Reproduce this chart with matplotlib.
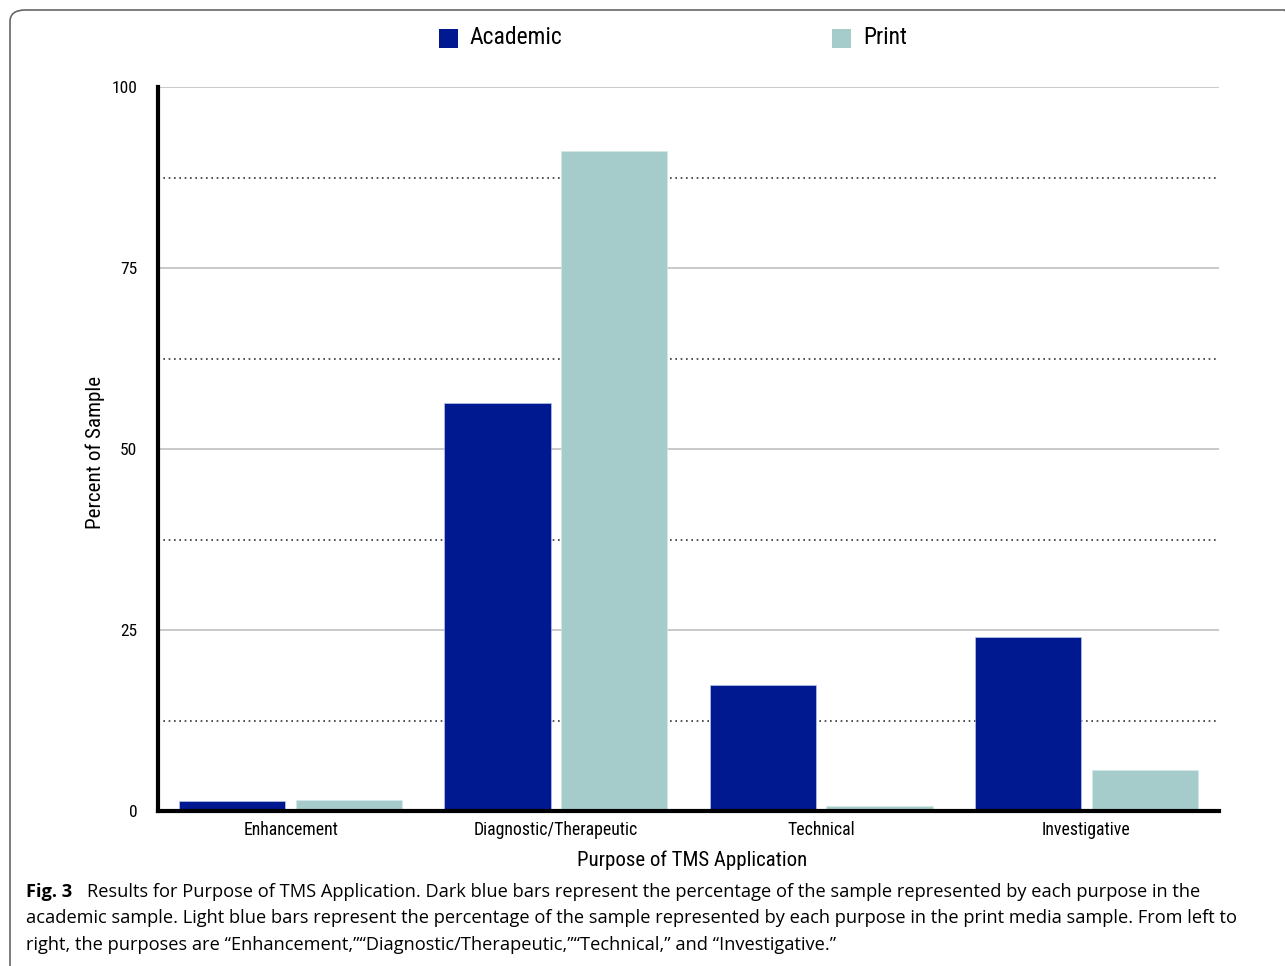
import matplotlib
matplotlib.use("Agg")
import matplotlib.pyplot as plt
from matplotlib import font_manager
from matplotlib.patches import FancyBboxPatch, Rectangle
import numpy as np

categories = ["Enhancement", "Diagnostic/Therapeutic", "Technical", "Investigative"]
academic = [1.4, 56.4, 17.4, 24.0]
print_media = [1.5, 91.2, 0.7, 5.7]
series_names = ["Academic", "Print"]
yticks = [0, 25, 50, 75, 100]
minor_ticks = [12.5, 37.5, 62.5, 87.5]

names = {f.name for f in font_manager.fontManager.ttflist}
cond = "Roboto Condensed" if "Roboto Condensed" in names else "Roboto"
cap_font = "Open Sans" if "Open Sans" in names else "Noto Sans"

c_acad = "#001890"
c_print = "#A5CBCB"

W, H = 1285, 966
fig = plt.figure(figsize=(W / 100, H / 100), dpi=100)

def fx(px):
    return px / W

def fy(py):
    return 1 - py / H

# border
border = FancyBboxPatch((fx(10), fy(985)), fx(1300) - fx(10), fy(10) - fy(985),
                        boxstyle="round,pad=0,rounding_size=0.012",
                        transform=fig.transFigure, fill=False,
                        edgecolor="#666666", linewidth=1.2, clip_on=False)
fig.patches.append(border)

ax = fig.add_axes([fx(158), fy(811), fx(1219) - fx(158), fy(87) - fy(811)])
x = np.arange(len(categories))
w = 0.4
off = 0.22
ax.bar(x - off, academic, w, color=c_acad, zorder=3, edgecolor="#c8d0f0", linewidth=0.4)
ax.bar(x + off, print_media, w, color=c_print, zorder=3, edgecolor="#d8eaea", linewidth=0.4)

ax.set_xlim(-0.5, 3.5)
ax.set_ylim(0, 100)
ax.set_yticks(yticks)
ax.set_yticklabels([str(t) for t in yticks], fontfamily=cond, fontsize=12.5)
ax.set_yticks(minor_ticks, minor=True)
ax.tick_params(axis="y", which="both", length=0, pad=15)
ax.grid(axis="y", which="major", color="#bbbbbb", linewidth=1.1, zorder=0)
ax.grid(axis="y", which="minor", color="#333333", linewidth=1.2, linestyle=(0, (1, 2.2)), zorder=0)
ax.set_xticks(x)
ax.set_xticklabels(categories, fontfamily=cond, fontsize=12.8)
ax.tick_params(axis="x", length=0, pad=7)
for s in ["top", "right"]:
    ax.spines[s].set_visible(False)
ax.spines["left"].set_linewidth(3)
ax.spines["bottom"].set_linewidth(3)
ax.spines["left"].set_zorder(4)
ax.spines["bottom"].set_zorder(4)

fig.text(fx(95), fy(452), "Percent of Sample", rotation=90, ha="center", va="center",
         fontfamily=cond, fontsize=15.2)
fig.text(fx(692), fy(860), "Purpose of TMS Application", ha="center", va="center",
         fontfamily=cond, fontsize=15)

# legend
for (px, name, col) in [(439, series_names[0], c_acad), (832, series_names[1], c_print)]:
    fig.patches.append(Rectangle((fx(px), fy(48)), fx(19), fy(29) - fy(48),
                                 transform=fig.transFigure, facecolor=col, edgecolor="none"))
    fig.text(fx(px + 31), fy(38), name, ha="left", va="center", fontfamily=cond, fontsize=17)

# caption
lines = [
    "Results for Purpose of TMS Application. Dark blue bars represent the percentage of the sample represented by each purpose in the",
    "academic sample. Light blue bars represent the percentage of the sample represented by each purpose in the print media sample. From left to",
    "right, the purposes are \u201cEnhancement,\u201d\u201cDiagnostic/Therapeutic,\u201d\u201cTechnical,\u201d and \u201cInvestigative.\u201d",
]
cs = 13.15
fig.text(fx(26), fy(892), "Fig. 3", fontfamily=cap_font, fontweight="bold", fontsize=cs, va="center", ha="left")
fig.text(fx(87), fy(892), lines[0], fontfamily=cap_font, fontsize=cs, va="center", ha="left")
fig.text(fx(26), fy(918), lines[1], fontfamily=cap_font, fontsize=cs, va="center", ha="left")
fig.text(fx(26), fy(945), lines[2], fontfamily=cap_font, fontsize=cs, va="center", ha="left")

fig.savefig("out.png", dpi=100)
